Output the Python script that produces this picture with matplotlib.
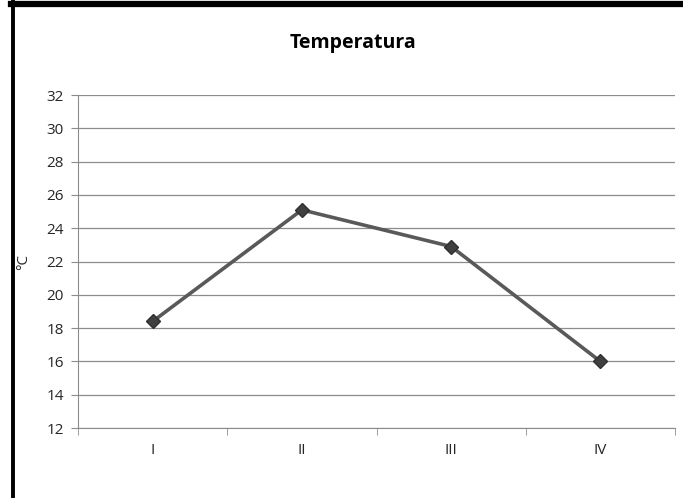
import matplotlib
matplotlib.use("Agg")
import matplotlib.pyplot as plt
import matplotlib.lines as mlines

# data
categories = ["I", "II", "III", "IV"]
temperature = [18.4, 25.1, 22.9, 16.0]
y_ticks = [12, 14, 16, 18, 20, 22, 24, 26, 28, 30, 32]

plt.rcParams['font.family'] = ['Open Sans', 'DejaVu Sans']

fig = plt.figure(figsize=(6.83, 4.98), dpi=100)
W, H = 683.0, 498.0
# plot area in pixels: x 78..675, y 95..428
ax = fig.add_axes([78 / W, 1 - 428 / H, (675 - 78) / W, (428 - 95) / H])

x = list(range(len(categories)))
ax.plot(x, temperature, color="#595959", lw=2.6, marker="D", markersize=7,
        markerfacecolor="#404040", markeredgecolor="#303030", zorder=3)

ax.set_xlim(-0.5, len(categories) - 0.5)
ax.set_ylim(12, 32)
ax.set_yticks(y_ticks)
ax.set_xticks(x)
ax.set_xticklabels(categories)
ax.set_xticks([i - 0.5 for i in range(len(categories) + 1)], minor=True)

ax.grid(axis="y", color="#8c8c8c", lw=0.9)
ax.set_axisbelow(True)
for s in ["top", "right"]:
    ax.spines[s].set_visible(False)
ax.spines["left"].set_color("#8c8c8c")
ax.spines["bottom"].set_color("#8c8c8c")

ax.tick_params(axis="x", which="major", length=0, pad=11, labelsize=11, colors="#262626")
ax.tick_params(axis="x", which="minor", length=5, color="#8c8c8c")
ax.tick_params(axis="y", length=5, color="#8c8c8c", labelsize=11, pad=5, labelcolor="#262626")

ax.set_ylabel("°C", fontsize=11, color="#262626", labelpad=11)
fig.text(353 / W, 1 - 43 / H, "Temperatura", ha="center", va="center",
         fontsize=14, fontweight="bold")

# black frame on top and left edges
fig.add_artist(mlines.Line2D([11 / W, 1], [1 - 4 / H, 1 - 4 / H], color="black", lw=4.5))
fig.add_artist(mlines.Line2D([12.5 / W, 12.5 / W], [0, 1 - 2 / H], color="black", lw=2.8))

fig.savefig("out.png", dpi=100, facecolor="white")
